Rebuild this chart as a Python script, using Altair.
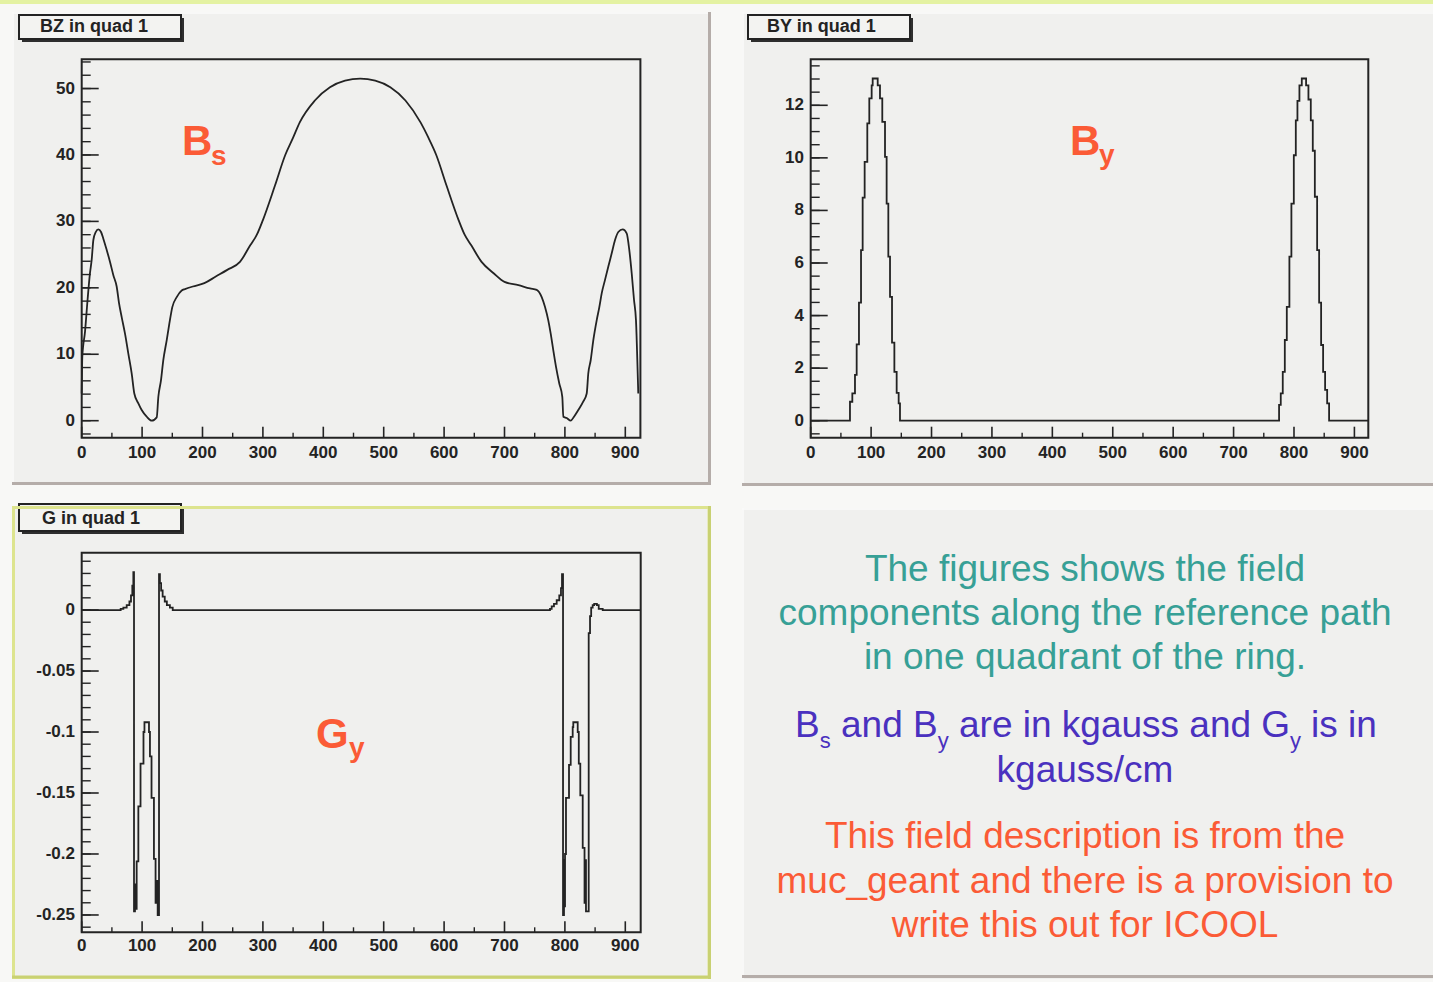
import altair as alt
import pandas as pd

# ---------------- data ----------------
# BZ in quad 1 : path length (cm) vs field (kgauss)
BZ_S = [0, 1.0, 5.5, 9.9, 13.7, 16.5, 19.3, 23.2, 27.5, 32.0,
        35.8, 41.4, 46.9, 52.4, 57.9, 61.8, 66.2, 71.7, 77.2, 82.8,
        87.1, 93.8, 99.3, 107.6, 115.9, 124.2, 126.9, 131.3, 135.1, 140.7,
        145.1, 150.0, 157.3, 165.6, 171.0, 184, 203, 222, 241, 262,
        279, 290, 300, 320, 337, 350, 361, 386, 411, 436,
        461, 486, 511, 536, 561, 574, 587, 604, 624, 634,
        645, 662, 682, 700, 723, 742.2, 753.3, 761.6, 767.1, 772.5,
        776.5, 780.8, 785.3, 790.7, 795.7, 797.4, 803.0, 809.6, 815.1, 822.2,
        830.5, 836.1, 838.7, 842.7, 847.0, 852.6, 857.0, 861.0, 866.4, 871.9,
        877.5, 883.0, 888.4, 895.7, 902.3, 906.6, 910.6, 914.4, 917.7, 919.9,
        921.5]
BZ_F = [4.1, 9.6, 13.4, 18.4, 22.2, 24.2, 27.2, 28.4, 28.8, 28.4,
        27.4, 25.7, 23.9, 21.9, 20.2, 17.7, 15.6, 13.1, 10.1, 7.1,
        4.1, 2.6, 1.6, 0.6, 0.0, 0.5, 3.6, 6.1, 9.1, 12.1,
        14.6, 17.1, 18.6, 19.6, 19.8, 20.2, 20.7, 21.7, 22.7, 23.9,
        26.4, 28.0, 30.2, 35.4, 40.0, 42.6, 44.9, 48.2, 50.2, 51.2,
        51.5, 51.2, 50.2, 48.2, 44.9, 42.6, 40.0, 35.4, 30.2, 28.0,
        26.4, 23.9, 22.2, 20.9, 20.4, 19.9, 19.7, 18.6, 17.1, 15.1,
        13.1, 10.6, 8.1, 5.6, 3.6, 0.6, 0.4, 0.0, 0.6, 1.6,
        2.9, 4.1, 7.1, 9.1, 12.1, 15.1, 17.1, 19.2, 21.2, 23.2,
        25.2, 27.2, 28.4, 28.8, 28.2, 25.7, 22.2, 18.2, 15.1, 9.1,
        4.1]

# BY in quad 1 : histogram bin edges and contents (kgauss)
BY_S = [0, 65.0, 68.9, 73.3, 76.1, 79.9, 83.3, 86.0, 89.3, 93.7,
        97.0, 100.9, 102.6, 110.9, 114.7, 118.5, 123.0, 125.7, 128.5, 131.3,
        134.6, 138.5, 142.3, 145.6, 147.8,
        775.3, 778.1, 781.4, 784.8, 788.1, 792.4, 795.7, 799.7, 803.0, 805.7,
        809.0, 812.9, 820.0, 823.9, 827.8, 831.1, 834.5, 838.3, 841.6, 844.9,
        848.2, 851.5, 854.9, 858.1, 923.0]
BY_F = [0, 0.72, 1.04, 1.74, 2.90, 4.49, 6.49, 8.49, 9.85, 11.31,
        12.26, 12.76, 13.02, 12.76, 12.26, 11.37, 10.04, 8.26, 6.24, 4.71,
        2.97, 1.86, 1.06, 0.66, 0,
        0.60, 1.04, 1.86, 3.07, 4.33, 6.24, 8.26, 10.10, 11.43, 12.17,
        12.76, 13.02, 12.76, 12.22, 11.43, 10.27, 8.52, 6.49, 4.49, 2.88,
        1.86, 1.17, 0.66, 0, 0]

# G in quad 1 : histogram bin edges and contents (kgauss/cm)
G_S = [0, 64.5, 69.0, 74.5, 79.0, 81.6, 83.8, 85.5, 86.6, 88.2,
       89.5, 91.0, 93.8, 97.4, 102.3, 103.9, 111.4, 113.0, 115.6, 119.6,
       122.3, 124.5, 125.8, 128.0, 129.5, 131.5, 134.0, 137.5, 141.0, 146.0,
       150.7,
       775.3, 778.1, 781.9, 786.4, 790.7, 793.5, 795.2, 796.9, 798.5, 799.3,
       800.2, 801.8, 806.8, 809.6, 812.9, 813.9, 821.2, 823.0, 825.5, 829.5,
       832.5, 833.5, 834.9, 839.4, 841.6, 843.5, 846.0, 848.5, 853.0, 856.0,
       862.6, 925.0]
G_F = [0, 0.001, 0.002, 0.004, 0.007, 0.012, 0.020, 0.031, -0.247, -0.225,
       -0.245, -0.206, -0.161, -0.126, -0.100, -0.092, -0.100, -0.120, -0.154, -0.204,
       -0.240, -0.222, -0.250, 0.0295, 0.022, 0.016, 0.011, 0.007, 0.004, 0.002,
       0,
       0.001, 0.003, 0.005, 0.008, 0.012, 0.018, 0.0295, -0.250, -0.205, -0.243,
       -0.200, -0.154, -0.127, -0.104, -0.096, -0.092, -0.100, -0.126, -0.152, -0.195,
       -0.240, -0.205, -0.247, -0.019, -0.005, 0.002, 0.004, 0.005, 0.004, 0.001,
       0, 0]

# axis ticks and labels
X_MAJOR = [0, 100, 200, 300, 400, 500, 600, 700, 800, 900]
X_LABELS = ["0", "100", "200", "300", "400", "500", "600", "700", "800", "900"]
X_MINOR = [50, 150, 250, 350, 450, 550, 650, 750, 850]
BZ_Y_MAJOR = [0, 10, 20, 30, 40, 50]
BZ_Y_LABELS = ["0", "10", "20", "30", "40", "50"]
BZ_Y_MINOR = [v for v in range(-2, 55, 2)]
BY_Y_MAJOR = [0, 2, 4, 6, 8, 10, 12]
BY_Y_LABELS = ["0", "2", "4", "6", "8", "10", "12"]
BY_Y_MINOR = [k * 0.5 for k in range(-1, 28)]
G_Y_MAJOR = [0, -0.05, -0.1, -0.15, -0.2, -0.25]
G_Y_LABELS = ["0", "-0.05", "-0.1", "-0.15", "-0.2", "-0.25"]
G_Y_MINOR = [round(k * 0.01, 2) for k in range(-26, 5)]

TITLES = ["BZ in quad 1", "BY in quad 1", "G in quad 1"]
TEAL_LINES = ["The figures shows the field",
              "components along the reference path",
              "in one quadrant of the ring."]
PURPLE_PIECES = ["B", "s", "and B", "y", "are in kgauss and G", "y", "is in"]
PURPLE_LINE2 = "kgauss/cm"
ORANGE_LINES = ["This field description is from the",
                "muc_geant and there is a provision to",
                "write this out for ICOOL"]

# ---------------- layout / style ----------------
FONT = "Liberation Sans"
INK = "#232323"
PANEL_BG = "#f0f0ee"
SHADOW = "#b5ada9"
TEAL = "#37a096"
PURPLE = "#4a31bf"
ORANGE = "#fb5b36"

P1 = dict(x0=81.7, x1=640.4, y0=59.3, y1=437.7, xdom=[0, 925], ydom=[-2.56, 54.4],
          lab_x=75, xl_y=453)
P2 = dict(x0=810.7, x1=1368.3, y0=59.3, y1=437.7, xdom=[0, 923], ydom=[-0.647, 13.75],
          lab_x=804, xl_y=453)
P3 = dict(x0=81.7, x1=640.7, y0=552.7, y1=932.3, xdom=[0, 925.5], ydom=[-0.2642, 0.047],
          lab_x=75, xl_y=946)


def one():
    return pd.DataFrame({"k": [0]})


def xs(p):
    return alt.Scale(domain=p["xdom"], range=[p["x0"], p["x1"]], zero=False, nice=False)


def ys(p):
    return alt.Scale(domain=p["ydom"], range=[p["y1"], p["y0"]], zero=False, nice=False)


def rect(x0, x1, y0, y1, **mk):
    return alt.Chart(one()).mark_rect(**mk).encode(
        x=alt.value(x0), x2=alt.value(x1), y=alt.value(y0), y2=alt.value(y1))


def hline(x0, x1, y, color, w):
    return alt.Chart(one()).mark_rule(color=color, strokeWidth=w).encode(
        x=alt.value(x0), x2=alt.value(x1), y=alt.value(y))


def vline(x, y0, y1, color, w):
    return alt.Chart(one()).mark_rule(color=color, strokeWidth=w).encode(
        x=alt.value(x), y=alt.value(y0), y2=alt.value(y1))


def txt(s, x, y, size, color, bold=False, align="left", baseline="alphabetic"):
    mk = dict(font=FONT, fontSize=size, color=color, align=align, baseline=baseline)
    if bold:
        mk["fontWeight"] = "bold"
    return alt.Chart(pd.DataFrame({"t": [s]})).mark_text(**mk).encode(
        text="t:N", x=alt.value(x), y=alt.value(y))


def curve(p, s, f, interp):
    df = pd.DataFrame({"s": s, "f": f, "i": list(range(len(s)))})
    return alt.Chart(df).mark_line(interpolate=interp, color=INK, strokeWidth=1.8).encode(
        x=alt.X("s:Q", scale=xs(p), axis=None),
        y=alt.Y("f:Q", scale=ys(p), axis=None),
        order="i:Q")


def axes(p, ymaj, ylab, ymin):
    out = []
    # y minor / major ticks (pointing inward)
    out.append(alt.Chart(pd.DataFrame({"v": ymin})).mark_rule(color=INK, strokeWidth=1.4).encode(
        y=alt.Y("v:Q", scale=ys(p), axis=None),
        x=alt.value(p["x0"]), x2=alt.value(p["x0"] + 9)))
    out.append(alt.Chart(pd.DataFrame({"v": ymaj})).mark_rule(color=INK, strokeWidth=1.6).encode(
        y=alt.Y("v:Q", scale=ys(p), axis=None),
        x=alt.value(p["x0"]), x2=alt.value(p["x0"] + 17)))
    # x minor / major ticks
    out.append(alt.Chart(pd.DataFrame({"v": X_MINOR})).mark_rule(color=INK, strokeWidth=1.4).encode(
        x=alt.X("v:Q", scale=xs(p), axis=None),
        y=alt.value(p["y1"]), y2=alt.value(p["y1"] - 5)))
    out.append(alt.Chart(pd.DataFrame({"v": X_MAJOR})).mark_rule(color=INK, strokeWidth=1.6).encode(
        x=alt.X("v:Q", scale=xs(p), axis=None),
        y=alt.value(p["y1"]), y2=alt.value(p["y1"] - 11)))
    # labels
    out.append(alt.Chart(pd.DataFrame({"v": ymaj, "t": ylab})).mark_text(
        font=FONT, fontSize=17, fontWeight="bold", color=INK, align="right", baseline="middle").encode(
        y=alt.Y("v:Q", scale=ys(p), axis=None), x=alt.value(p["lab_x"]), text="t:N"))
    out.append(alt.Chart(pd.DataFrame({"v": X_MAJOR, "t": X_LABELS})).mark_text(
        font=FONT, fontSize=17, fontWeight="bold", color=INK, align="center", baseline="middle").encode(
        x=alt.X("v:Q", scale=xs(p), axis=None), y=alt.value(p["xl_y"]), text="t:N"))
    # frame
    out.append(rect(p["x0"], p["x1"], p["y0"], p["y1"], fill="transparent", stroke=INK, strokeWidth=2))
    return out


def title_box(x0, y0, x1, y1, label, tx, ty):
    return [
        rect(x0 + 3, x1 + 3, y0 + 3, y1 + 3, fill="#2e2e2e"),
        rect(x0, x1, y0, y1, fill="#f3f3f1", stroke=INK, strokeWidth=2),
        txt(label, tx, ty, 18, INK, bold=True, baseline="middle"),
    ]


layers = []
# page decoration
layers.append(rect(0, 1433, 0, 4, fill="#e4f2a2"))
# panel 1
layers.append(rect(12, 711, 12, 485, fill=PANEL_BG))
layers.append(hline(12, 711, 13, "#fbfbfa", 1.5))
layers.append(vline(13, 12, 485, "#fbfbfa", 1.5))
layers.append(hline(12, 711, 483.5, SHADOW, 3))
layers.append(vline(709.5, 12, 485, SHADOW, 3))
# panel 2
layers.append(rect(742, 1433, 12, 486, fill=PANEL_BG))
layers.append(hline(742, 1433, 13, "#fbfbfa", 1.5))
layers.append(vline(743, 12, 486, "#fbfbfa", 1.5))
layers.append(hline(742, 1433, 484.5, SHADOW, 3))
# panel 3
layers.append(rect(12, 711, 506, 979, fill=PANEL_BG))
# panel 4
layers.append(rect(742, 1433, 508, 979, fill=PANEL_BG))
layers.append(hline(742, 1433, 509, "#fbfbfa", 1.5))
layers.append(vline(743, 508, 979, "#fbfbfa", 1.5))
layers.append(hline(742, 1433, 976.5, SHADOW, 3))

# plots
layers += axes(P1, BZ_Y_MAJOR, BZ_Y_LABELS, BZ_Y_MINOR)
layers.append(curve(P1, BZ_S, BZ_F, "monotone"))
layers += axes(P2, BY_Y_MAJOR, BY_Y_LABELS, BY_Y_MINOR)
layers.append(curve(P2, BY_S, BY_F, "step-after"))
layers += axes(P3, G_Y_MAJOR, G_Y_LABELS, G_Y_MINOR)
layers.append(curve(P3, G_S, G_F, "step-after"))

# title boxes
layers += title_box(19, 15, 181, 39, TITLES[0], 40, 27)
layers += title_box(748, 15, 910, 39, TITLES[1], 767, 27)
layers += title_box(19, 504, 181, 531, TITLES[2], 42, 519)

# panel 3 yellow frame drawn over the title box top
layers.append(rect(13.5, 709, 507.5, 977.5, fill="transparent", stroke="#dde48e", strokeWidth=3))
layers.append(hline(12, 711, 977, "#c9d172", 3))
layers.append(vline(709.5, 506, 979, "#c9d172", 3))

# big field labels
layers.append(txt("B", 182, 155, 42, ORANGE, bold=True))
layers.append(txt("s", 211, 165, 28, ORANGE, bold=True))
layers.append(txt("B", 1070, 155, 42, ORANGE, bold=True))
layers.append(txt("y", 1099, 164, 28, ORANGE, bold=True))
layers.append(txt("G", 316, 748, 42, ORANGE, bold=True))
layers.append(txt("y", 349, 757, 28, ORANGE, bold=True))

# text panel
CX = 1085
for line, y in zip(TEAL_LINES, [581, 625, 669]):
    layers.append(txt(line, CX, y, 37, TEAL, align="center"))
piece_x = [795, 819.7, 841, 937.7, 959, 1290, 1311]
piece_sub = [False, True, False, True, False, True, False]
for piece, x, sub in zip(PURPLE_PIECES, piece_x, piece_sub):
    layers.append(txt(piece, x, 748 if sub else 737, 22 if sub else 37, PURPLE))
layers.append(txt(PURPLE_LINE2, CX, 782, 37, PURPLE, align="center"))
for line, y in zip(ORANGE_LINES, [848, 893, 937]):
    layers.append(txt(line, CX, y, 37, ORANGE, align="center"))

chart = alt.layer(*layers).resolve_scale(x="independent", y="independent").properties(
    width=1433, height=982, padding=0,
    autosize=alt.AutoSizeParams(type="none"),
    background="#f8f8f6",
).configure_view(stroke=None)

chart.save("out.html", embed_options={"renderer": "svg", "actions": False})
